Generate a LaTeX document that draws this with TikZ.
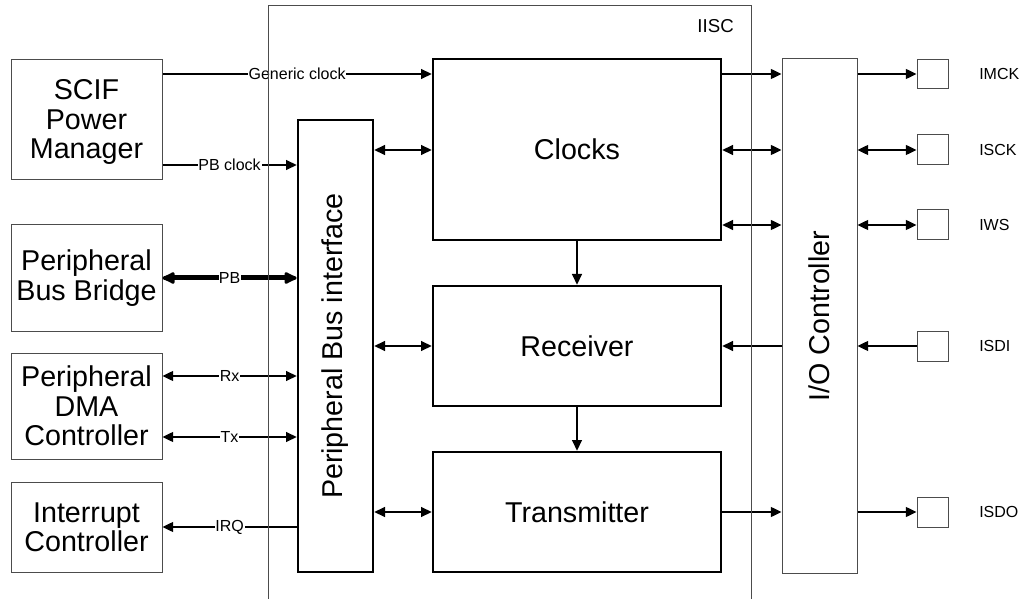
\documentclass[tikz,border=0pt]{standalone}
\usepackage{fontspec}
\setmainfont{Liberation Sans}
\usetikzlibrary{arrows.meta,fit}
\begin{document}
\begin{tikzpicture}[x=0.75pt,y=-0.75pt,
  thinbox/.style={draw=black!70,line width=0.75pt,inner sep=0pt},
  thickbox/.style={draw=black,line width=2pt,inner sep=0pt},
  pinbox/.style={draw=black!70,line width=0.75pt,inner sep=0pt},
  bigtxt/.style={align=center,inner sep=0pt,font=\fontsize{21.5}{22}\selectfont},
  arr/.style={line width=1pt,-{Triangle[length=8pt,width=7.5pt]}},
  darr/.style={line width=1pt,{Triangle[length=8pt,width=7.5pt]}-{Triangle[length=8pt,width=7.5pt]}},
  lbl/.style={fill=white,inner sep=0.6pt,font=\fontsize{12}{12}\selectfont},
  pinlbl/.style={anchor=west,inner sep=0pt,font=\fontsize{12}{12}\selectfont}]
\useasboundingbox (0,0) rectangle (1029,599);
% level coordinates
\coordinate (y74) at (0,74);
\coordinate (y150) at (0,150);
\coordinate (y165) at (0,165);
\coordinate (y225) at (0,225);
\coordinate (y278) at (0,278);
\coordinate (y346) at (0,346);
\coordinate (y376) at (0,376);
\coordinate (y437) at (0,437);
\coordinate (y512) at (0,512);
\coordinate (y527) at (0,527);
% left boxes
\node[thinbox,fit={(11,60) (162,180)}] (scif) {};
\node[bigtxt] (tscif) at ([yshift=-1.5pt]scif.center) {SCIF\\Power\\Manager};
\node[thinbox,fit={(11,225) (162,331)}] (pbb) {};
\node[bigtxt] (tpbb) at (pbb.center) {Peripheral\\Bus Bridge};
\node[thinbox,fit={(11,353) (162,459)}] (dma) {};
\node[bigtxt] (tdma) at (dma.center) {Peripheral\\DMA\\Controller};
\node[thinbox,fit={(11,482) (162,572)}] (intc) {};
\node[bigtxt] (tintc) at (intc.center) {Interrupt\\Controller};
% inner blocks
\node[thickbox,fit={(298,120) (373,572)}] (pbi) {};
\node[bigtxt,rotate=90] (tpbi) at (pbi.center) {Peripheral Bus interface};
\node[thickbox,fit={(433,59) (721,240)}] (clocks) {};
\node[bigtxt] (tclocks) at (clocks.center) {Clocks};
\node[thickbox,fit={(433,286) (721,406)}] (recv) {};
\node[bigtxt] (trecv) at (recv.center) {Receiver};
\node[thickbox,fit={(433,452) (721,572)}] (trans) {};
\node[bigtxt] (ttrans) at (trans.center) {Transmitter};
\node[thinbox,fit={(782,59) (857,573)}] (io) {};
\node[bigtxt,rotate=90] (tio) at (io.center) {I/O Controller};
% pins
\node[pinbox,fit={(917,59.5) (948,88.5)}] (imck) {};
\node[pinbox,fit={(917,135) (948,165)}] (isck) {};
\node[pinbox,fit={(917,210) (948,240)}] (iws) {};
\node[pinbox,fit={(917,331) (948,361)}] (isdi) {};
\node[pinbox,fit={(917,497) (948,527)}] (isdo) {};
\node[pinlbl] (limck) at (979,74) {IMCK};
\node[pinlbl] (lisck) at (979,150) {ISCK};
\node[pinlbl] (liws) at (979,225) {IWS};
\node[pinlbl] (lisdi) at (979,346) {ISDI};
\node[pinlbl] (lisdo) at (979,512) {ISDO};
% left connectors
\draw[arr] (scif.east |- y74) -- node[lbl]{Generic clock} (clocks.west |- y74);
\draw[arr] (scif.east |- y165) -- node[lbl]{PB clock} (pbi.west |- y165);
\draw[line width=3.75pt,{Latex[length=12pt,width=11pt,round]}-{Latex[length=12pt,width=11pt,round]}] (pbb.east |- y278) -- node[lbl,inner sep=0.3pt]{PB} (pbi.west |- y278);
\draw[darr] (dma.east |- y376) -- node[lbl]{Rx} (pbi.west |- y376);
\draw[darr] (dma.east |- y437) -- node[lbl]{Tx} (pbi.west |- y437);
\draw[arr] (pbi.west |- y527) -- node[lbl]{IRQ} (intc.east |- y527);
% pbi to blocks
\draw[darr] (pbi.east |- y150) -- (clocks.west |- y150);
\draw[darr] (pbi.east |- y346) -- (recv.west |- y346);
\draw[darr] (pbi.east |- y512) -- (trans.west |- y512);
% vertical
\draw[arr] (clocks.south) -- (recv.north);
\draw[arr] (recv.south) -- (trans.north);
% blocks to io
\draw[arr] (clocks.east |- y74) -- (io.west |- y74);
\draw[darr] (clocks.east |- y150) -- (io.west |- y150);
\draw[darr] (clocks.east |- y225) -- (io.west |- y225);
\draw[arr] (io.west |- y346) -- (recv.east |- y346);
\draw[arr] (trans.east |- y512) -- (io.west |- y512);
% io to pins
\draw[arr] (io.east |- y74) -- (imck.west |- y74);
\draw[darr] (io.east |- y150) -- (isck.west |- y150);
\draw[darr] (io.east |- y225) -- (iws.west |- y225);
\draw[arr] (isdi.west |- y346) -- (io.east |- y346);
\draw[arr] (io.east |- y512) -- (isdo.west |- y512);
% IISC outline
\coordinate (iiscbl) at (268,600);
\coordinate (iisctl) at (268,6);
\coordinate (iisctr) at (751,6);
\coordinate (iiscbr) at (751,600);
\draw[black!70,line width=0.75pt] (iiscbl) -- (iisctl) -- (iisctr) -- (iiscbr);
\node[anchor=base east,inner sep=0pt,font=\fontsize{14}{14}\selectfont] (iisc) at (734,33) {IISC};
\end{tikzpicture}
\end{document}
